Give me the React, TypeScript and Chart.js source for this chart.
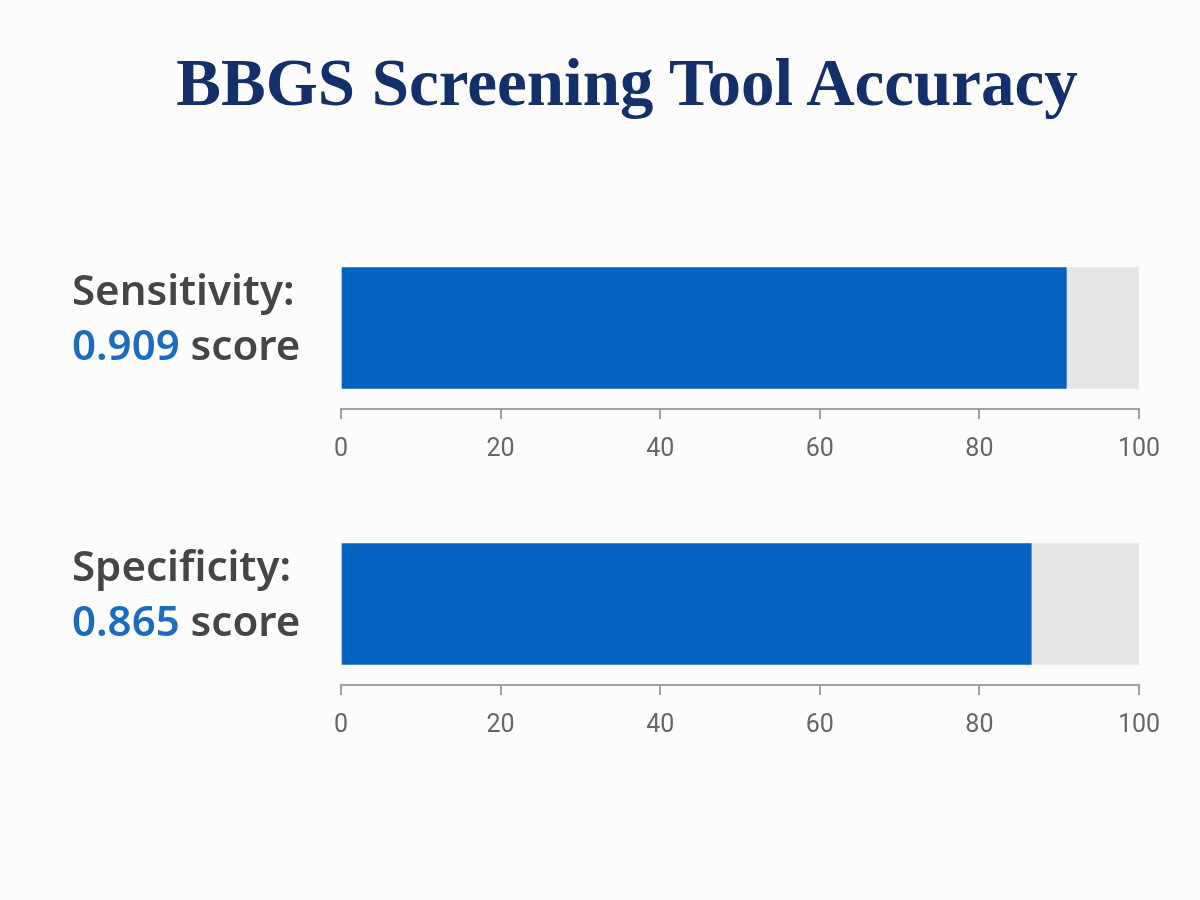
import { useEffect, useRef } from "react"
import { Chart, registerables } from "chart.js"

Chart.register(...registerables)

// Screening metrics (score out of 1, drawn on a 0-100 scale)
const metrics = ["Sensitivity", "Specificity"]
const scores = [0.909, 0.865]
const axisMin = 0
const axisMax = 100
const tickStep = 20

const BLUE = "#0563c1"
const TRACK = "#e6e6e6"
const AXIS = "#a0a0a0"

function MetricBar({ index }: { index: number }) {
  const chartRef = useRef<HTMLCanvasElement>(null)
  const chartInstance = useRef<Chart | null>(null)

  useEffect(() => {
    if (!chartRef.current) return
    if (chartInstance.current) chartInstance.current.destroy()
    const ctx = chartRef.current.getContext("2d")
    if (!ctx) return

    chartInstance.current = new Chart(ctx, {
      type: "bar",
      data: {
        labels: [metrics[index]],
        datasets: [
          {
            label: "Score",
            data: [scores[index] * 100],
            backgroundColor: BLUE,
            barThickness: 121,
            grouped: false,
            order: 0,
          },
          {
            label: "Track",
            data: [axisMax],
            backgroundColor: TRACK,
            barThickness: 121,
            grouped: false,
            order: 1,
          },
        ],
      },
      options: {
        indexAxis: "y",
        animation: false,
        responsive: true,
        maintainAspectRatio: false,
        layout: {
          padding: { left: 341, right: 61, top: 10, bottom: 0 },
        },
        plugins: {
          legend: { display: false },
          tooltip: { enabled: false },
          title: { display: false },
        },
        scales: {
          x: {
            min: axisMin,
            max: axisMax,
            grid: {
              drawOnChartArea: false,
              drawTicks: true,
              tickLength: 10,
              color: AXIS,
              lineWidth: 2,
            },
            border: { color: AXIS, width: 2 },
            ticks: {
              stepSize: tickStep,
              padding: 16,
              color: "#666666",
              font: { family: "Roboto", size: 25 },
            },
          },
          y: { display: false },
        },
      },
    })

    return () => {
      if (chartInstance.current) {
        chartInstance.current.destroy()
        chartInstance.current = null
      }
    }
  }, [index])

  const barTop = 267 + index * 276
  const labelFont = "'Noto Sans', 'Open Sans', sans-serif"

  return (
    <>
      <div style={{ position: "absolute", left: 0, top: barTop - 30, width: 1200, height: 244 }}>
        <canvas ref={chartRef} />
      </div>
      <div
        style={{
          position: "absolute",
          left: 72,
          top: barTop - 6,
          fontFamily: labelFont,
          fontWeight: 600,
          fontSize: 42,
          lineHeight: "55px",
          color: "#454545",
          whiteSpace: "nowrap",
        }}
      >
        <div>{metrics[index]}:</div>
        <div>
          <span style={{ color: "#1a6cc0" }}>{scores[index].toFixed(3)}</span> score
        </div>
      </div>
    </>
  )
}

export default function App() {
  useEffect(() => {
    document.body.style.margin = "0"
    document.body.style.background = "#fcfcfc"
  }, [])

  return (
    <div style={{ position: "relative", width: 1200, height: 900, background: "#fcfcfc", overflow: "hidden" }}>
      <div
        style={{
          position: "absolute",
          left: 0,
          top: 42,
          width: 1254,
          textAlign: "center",
          fontFamily: "'Liberation Serif', 'DejaVu Serif', serif",
          fontWeight: 700,
          fontSize: 67,
          lineHeight: "80px",
          color: "#13306a",
          whiteSpace: "nowrap",
        }}
      >
        BBGS Screening Tool Accuracy
      </div>
      {metrics.map((_, i) => (
        <MetricBar key={i} index={i} />
      ))}
    </div>
  )
}
